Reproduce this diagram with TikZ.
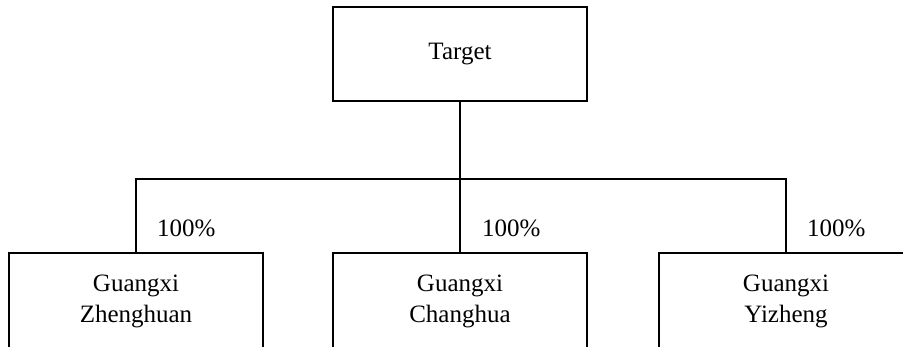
\documentclass[tikz,border=0pt]{standalone}
\usepackage{fontspec}
\setmainfont{Liberation Serif}
\begin{document}
\begin{tikzpicture}[x=1pt,y=1pt,
  box/.style={draw, line width=1.2pt, rectangle, minimum width=254pt, inner sep=0pt, align=center, font=\fontsize{25}{31}\selectfont},
  pct/.style={anchor=west, inner sep=0pt, font=\fontsize{25}{31}\selectfont},
  conn/.style={line width=1.2pt}]
\useasboundingbox (0,0) rectangle (903,-347);
\clip (0,0) rectangle (903,-347);
\node[box, minimum height=94pt] (top) at (460,-54) {Target};
\node[box, minimum height=96pt] (b1) at (136,-301) {Guangxi\\Zhenghuan};
\node[box, minimum height=96pt] (b2) at (460,-301) {Guangxi\\Changhua};
\node[box, minimum height=96pt] (b3) at (786,-301) {Guangxi\\Yizheng};
\coordinate (bus) at (460,-179);
\draw[conn] (top.south) -- (b2.north);
\draw[conn] (b1.north) |- (bus) -| (b3.north);
\node[pct] (p1) at (157,-228) {100\%};
\node[pct] (p2) at (482,-228) {100\%};
\node[pct] (p3) at (807,-228) {100\%};
\end{tikzpicture}
\end{document}
